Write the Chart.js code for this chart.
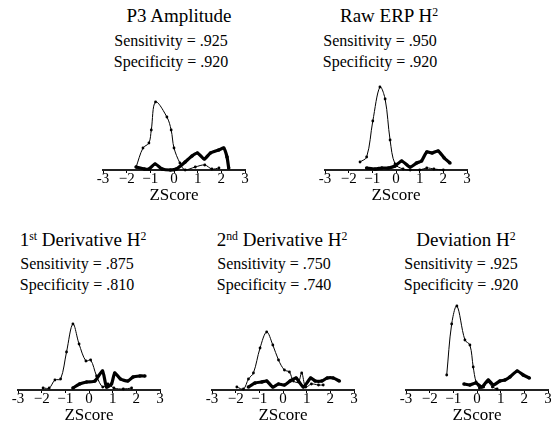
<!DOCTYPE html>
<html><head><meta charset="utf-8">
<script src="https://cdn.jsdelivr.net/npm/chart.js@4.4.1/dist/chart.umd.min.js"></script>
<style>
html,body{margin:0;padding:0;background:#fff}
body{width:551px;height:423px;position:relative;overflow:hidden;font-family:"Liberation Serif","Times New Roman",serif;color:#000}
.t{position:absolute;white-space:nowrap;transform:translateX(-50%);line-height:1}
.h{font-size:19px}.s{font-size:16px}
sup{font-size:0.62em;vertical-align:0;position:relative;top:-0.5em}
.c{position:absolute}
</style></head><body>
<script>
// ---- data (ZScore positions and curve heights) ----
const tickLabels = ['-3','\u22122','\u22121','0','1','2','3'];
const panelTitles = ['P3 Amplitude','Raw ERP H<sup>2</sup>','1<sup>st</sup> Derivative H<sup>2</sup>','2<sup>nd</sup> Derivative H<sup>2</sup>','Deviation H<sup>2</sup>'];
const sensitivity = ['.925','.950','.875','.750','.925'];
const specificity = ['.920','.920','.810','.740','.920'];

const p3ThinZ  = [-1.6,-1.31,-1.06,-0.96,-0.78,-0.3,-0.12,0.0,0.25,0.47,0.9,1.3,1.6,1.9];
const p3ThinH  = [3,22,27,40,68,53,40,22,7,0,3,5,1,2];
const p3ThickZ = [-1.6,-1.25,-1.05,-0.8,-0.5,-0.15,0.1,0.47,0.76,0.99,1.28,1.54,1.89,2.1,2.24,2.31];
const p3ThickH = [3,1,1,6,1,0,1,8,14,17,11,17,20,22,13,2];

const rawThinZ  = [-1.52,-1.24,-0.98,-0.68,-0.46,-0.25,-0.04,0.3,0.6,1.0,1.3,1.6,2.0];
const rawThinH  = [8,13,49,83,71,30,6,1,0,0,2,1,0];
const rawThickZ = [-1.24,-0.89,-0.6,-0.32,-0.04,0.24,0.59,0.87,1.08,1.3,1.53,1.78,2.04,2.28];
const rawThickH = [2,1,2,2,4,9,3,7,9,18,17,19,12,7];

const d1ThinZ  = [-1.94,-1.68,-1.44,-1.2,-0.95,-0.68,-0.42,-0.13,0.07,0.32,0.58,0.8,1.05,1.45,1.8];
const d1ThinH  = [2,2,10,11,38,66,46,29,30,14,3,6,2,1,2];
const d1ThickZ = [-0.68,-0.4,-0.1,0.25,0.57,0.74,0.95,1.09,1.33,1.64,1.86,2.15,2.36];
const d1ThickH = [2,6,8,9,19,3,6,17,11,9,13,14,14];

const d2ThinZ  = [-1.95,-1.67,-1.46,-1.25,-0.97,-0.69,-0.43,-0.19,0.06,0.27,0.44,0.65,0.79,0.96,1.2,1.5,1.7];
const d2ThinH  = [3,1,11,17,42,58,45,30,20,18,9,8,17,3,6,5,5];
const d2ThickZ = [-1.46,-1.18,-0.9,-0.69,-0.43,-0.19,0.06,0.3,0.55,0.86,1.17,1.36,1.64,1.87,2.12,2.38];
const d2ThickH = [3,7,8,9,3,6,5,9,12,3,12,9,9,12,12,9];

const devThinZ  = [-1.28,-1.07,-0.85,-0.51,-0.30,-0.16,-0.04,0.1,0.28,0.45,0.65,0.85];
const devThinH  = [15,66,84,50,45,23,8,2,3,8,3,1];
const devThickZ = [-0.55,-0.3,-0.04,0.2,0.48,0.69,0.97,1.18,1.39,1.7,1.95,2.21];
const devThickH = [6,5,7,3,10,5,9,10,13,19,15,12];

// ---- layout ----
const panels = [
  {x0:103, axisY:170, titleX:179, sensX:171, titleY:6,   sensY:33,  specY:54,  thin:[p3ThinZ,p3ThinH], thick:[p3ThickZ,p3ThickH]},
  {x0:325, axisY:170, titleX:389, sensX:380, titleY:6,   sensY:33,  specY:54,  thin:[rawThinZ,rawThinH], thick:[rawThickZ,rawThickH]},
  {x0:18,  axisY:390, titleX:83,  sensX:77,  titleY:230, sensY:256, specY:277, thin:[d1ThinZ,d1ThinH], thick:[d1ThickZ,d1ThickH]},
  {x0:212, axisY:390, titleX:282, sensX:274, titleY:230, sensY:256, specY:277, thin:[d2ThinZ,d2ThinH], thick:[d2ThickZ,d2ThickH]},
  {x0:406, axisY:390, titleX:466, sensX:461, titleY:230, sensY:256, specY:277, thin:[devThinZ,devThinH], thick:[devThickZ,devThickH]}
];
const AXIS_W = 142, PAD_L = 12, PAD_R = 12, PAD_T = 8, PAD_B = 2, PLOT_H = 90, SCALE_H = 34;

Chart.defaults.font.family = '"Liberation Serif","Times New Roman",serif';
Chart.defaults.color = '#000';

function pts(z, h){ return z.map((x,i)=>({x:x, y:h[i]})); }

panels.forEach((p, k) => {
  const addText = (cls, html, x, y) => {
    const d = document.createElement('div');
    d.className = 't ' + cls; d.innerHTML = html;
    d.style.left = x + 'px'; d.style.top = y + 'px';
    document.body.appendChild(d);
  };
  addText('h', panelTitles[k], p.titleX, p.titleY);
  addText('s', 'Sensitivity = ' + sensitivity[k], p.sensX, p.sensY);
  addText('s', 'Specificity = ' + specificity[k], p.sensX, p.specY);

  const cv = document.createElement('canvas');
  const W = PAD_L + AXIS_W + PAD_R, H = PAD_T + PLOT_H + SCALE_H + PAD_B;
  cv.width = W; cv.height = H; cv.className = 'c';
  cv.style.left = (p.x0 - PAD_L) + 'px';
  cv.style.top = (p.axisY - PAD_T - PLOT_H) + 'px';
  cv.style.width = W + 'px'; cv.style.height = H + 'px';
  document.body.appendChild(cv);

  new Chart(cv, {
    type: 'line',
    data: { datasets: [
      { data: pts(p.thin[0], p.thin[1]), borderColor:'#000', borderWidth:1, tension:0.35,
        pointRadius:1.4, pointStyle:'circle', pointBackgroundColor:'#000', pointBorderWidth:0, clip:false },
      { data: pts(p.thick[0], p.thick[1]), borderColor:'#000', borderWidth:3.2, tension:0.2,
        pointRadius:1.8, pointBackgroundColor:'#000', pointBorderWidth:0, clip:false }
    ]},
    options: {
      responsive:false, animation:false, devicePixelRatio:1,
      layout:{ padding:{ left:PAD_L, right:PAD_R, top:PAD_T, bottom:PAD_B } },
      plugins:{ legend:{display:false}, tooltip:{enabled:false} },
      scales:{
        x:{ type:'linear', min:-3, max:3,
            ticks:{ stepSize:1, padding:-3, font:{size:15}, color:'#000',
                    callback:(v,i)=>tickLabels[i] },
            grid:{ display:true, drawOnChartArea:false, drawTicks:true, tickLength:3, color:'#000', lineWidth:1 },
            border:{ display:true, color:'#222', width:2 },
            title:{ display:true, text:'ZScore', font:{size:17, lineHeight:1}, padding:{top:2,bottom:0}, color:'#000' } },
        y:{ display:false, min:0, max:PLOT_H }
      }
    }
  });
});
</script>
</body></html>
